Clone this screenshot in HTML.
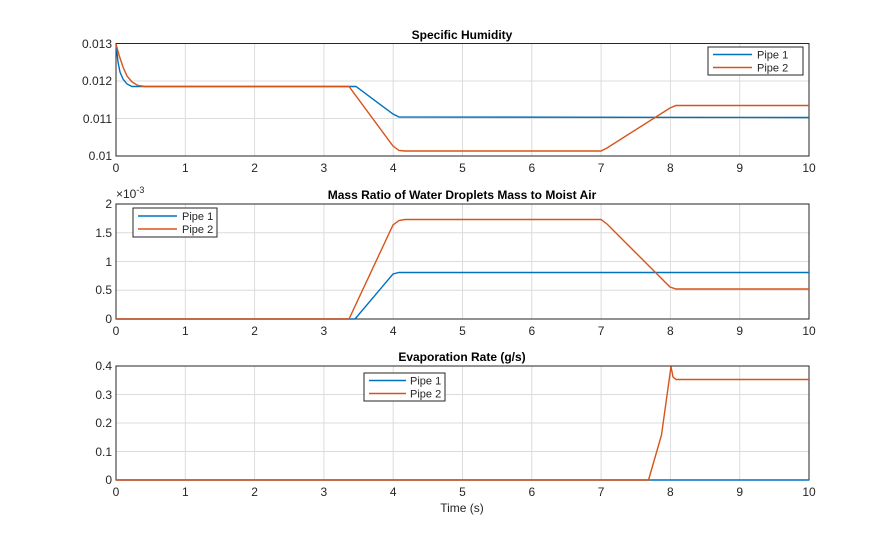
<!DOCTYPE html>
<html><head><meta charset="utf-8"><style>
body{margin:0;background:#fff}
svg{display:block;font-family:"Liberation Sans",Arial,sans-serif}
.g{stroke:#dcdcdc;stroke-width:1}
.t{font-size:12px;fill:#262626}
.h{font-size:12px;font-weight:bold;fill:#000}
.b{stroke:#262626;stroke-width:1;fill:none}
.p1{stroke:#0072bd;stroke-width:1.4;fill:none}
.p2{stroke:#d95319;stroke-width:1.4;fill:none}
</style></head><body>
<svg width="895" height="540" viewBox="0 0 895 540">
<rect width="895" height="540" fill="#fff"/>
<defs>
<g id="vg">
<line class="g" x1="185.3" x2="185.3"/><line class="g" x1="254.6" x2="254.6"/>
</g>
</defs>
<!-- subplot 1 -->
<g>
<g class="g">
<line x1="185.3" y1="43.5" x2="185.3" y2="156"/><line x1="254.6" y1="43.5" x2="254.6" y2="156"/><line x1="323.9" y1="43.5" x2="323.9" y2="156"/><line x1="393.2" y1="43.5" x2="393.2" y2="156"/><line x1="462.5" y1="43.5" x2="462.5" y2="156"/><line x1="531.8" y1="43.5" x2="531.8" y2="156"/><line x1="601.1" y1="43.5" x2="601.1" y2="156"/><line x1="670.4" y1="43.5" x2="670.4" y2="156"/><line x1="739.7" y1="43.5" x2="739.7" y2="156"/>
<line x1="116" y1="81" x2="809" y2="81"/><line x1="116" y1="118.5" x2="809" y2="118.5"/>
</g>
<rect class="b" x="116" y="43.5" width="693" height="112.5"/>
<text class="h" x="462" y="39" text-anchor="middle">Specific Humidity</text>
<g class="t" text-anchor="end"><text x="112" y="48">0.013</text><text x="112" y="85">0.012</text><text x="112" y="123">0.011</text><text x="112" y="160">0.01</text></g>
<polyline class="p1" points="116,44 118,62 120,72 123,79 127,84 132,86.5 350,86.5 356,86.5 393,114 399,117 809,117.5"/>
<polyline class="p2" points="116,44 119,55 123,67 127,76 132,82 138,85.5 145,86.5 349,86.5 393,146 399,150.5 405,151 601,151 607,148 670,108 676,105.5 809,105.5"/>
<rect x="708" y="47" width="95" height="28" fill="#fff" stroke="#262626"/>
<line class="p1" x1="713" y1="54.5" x2="752" y2="54.5"/><text class="t" x="757" y="58.5" style="font-size:11px">Pipe 1</text>
<line class="p2" x1="713" y1="67.5" x2="752" y2="67.5"/><text class="t" x="757" y="71.5" style="font-size:11px">Pipe 2</text>
</g>
<!-- subplot 2 -->
<g>
<g class="g">
<line x1="185.3" y1="204" x2="185.3" y2="319"/><line x1="254.6" y1="204" x2="254.6" y2="319"/><line x1="323.9" y1="204" x2="323.9" y2="319"/><line x1="393.2" y1="204" x2="393.2" y2="319"/><line x1="462.5" y1="204" x2="462.5" y2="319"/><line x1="531.8" y1="204" x2="531.8" y2="319"/><line x1="601.1" y1="204" x2="601.1" y2="319"/><line x1="670.4" y1="204" x2="670.4" y2="319"/><line x1="739.7" y1="204" x2="739.7" y2="319"/>
<line x1="116" y1="232.75" x2="809" y2="232.75"/><line x1="116" y1="261.5" x2="809" y2="261.5"/><line x1="116" y1="290.25" x2="809" y2="290.25"/>
</g>
<rect class="b" x="116" y="204" width="693" height="115"/>
<text class="h" x="462" y="199" text-anchor="middle">Mass Ratio of Water Droplets Mass to Moist Air</text>
<text class="t" x="116" y="198">×10<tspan dy="-5" style="font-size:9px">-3</tspan></text>
<g class="t" text-anchor="end"><text x="112" y="208">2</text><text x="112" y="237">1.5</text><text x="112" y="266">1</text><text x="112" y="294">0.5</text><text x="112" y="323">0</text></g>
<polyline class="p1" points="116,319 355,319 393,274 399,272.5 809,272.5"/>
<polyline class="p2" points="116,319 349,319 393,225 399,220.5 405,219.5 601,219.5 607,224 670,287 676,289 809,289"/>
<rect x="133" y="208" width="84" height="29" fill="#fff" stroke="#262626"/>
<line class="p1" x1="138" y1="216" x2="177" y2="216"/><text class="t" x="182" y="220" style="font-size:11px">Pipe 1</text>
<line class="p2" x1="138" y1="229" x2="177" y2="229"/><text class="t" x="182" y="233" style="font-size:11px">Pipe 2</text>
</g>
<!-- subplot 3 -->
<g>
<g class="g">
<line x1="185.3" y1="366" x2="185.3" y2="480"/><line x1="254.6" y1="366" x2="254.6" y2="480"/><line x1="323.9" y1="366" x2="323.9" y2="480"/><line x1="393.2" y1="366" x2="393.2" y2="480"/><line x1="462.5" y1="366" x2="462.5" y2="480"/><line x1="531.8" y1="366" x2="531.8" y2="480"/><line x1="601.1" y1="366" x2="601.1" y2="480"/><line x1="670.4" y1="366" x2="670.4" y2="480"/><line x1="739.7" y1="366" x2="739.7" y2="480"/>
<line x1="116" y1="394.5" x2="809" y2="394.5"/><line x1="116" y1="423" x2="809" y2="423"/><line x1="116" y1="451.5" x2="809" y2="451.5"/>
</g>
<rect class="b" x="116" y="366" width="693" height="114"/>
<text class="h" x="462" y="361" text-anchor="middle">Evaporation Rate (g/s)</text>
<g class="t" text-anchor="end"><text x="112" y="370">0.4</text><text x="112" y="399">0.3</text><text x="112" y="427">0.2</text><text x="112" y="456">0.1</text><text x="112" y="484">0</text></g>
<polyline class="p1" points="116,480 809,480"/>
<polyline class="p2" points="116,480 648.5,480 661.5,435 671,366.5 673,377 676,379.5 809,379.5"/>
<rect x="364" y="373" width="81" height="28" fill="#fff" stroke="#262626"/>
<line class="p1" x1="369" y1="380.5" x2="406" y2="380.5"/><text class="t" x="410" y="384.5" style="font-size:11px">Pipe 1</text>
<line class="p2" x1="369" y1="393.5" x2="406" y2="393.5"/><text class="t" x="410" y="397.5" style="font-size:11px">Pipe 2</text>
<text class="t" x="462" y="512" text-anchor="middle">Time (s)</text>
</g>
<!-- x tick labels -->
<g class="t" text-anchor="middle">
<text x="116" y="172">0</text><text x="185.3" y="172">1</text><text x="254.6" y="172">2</text><text x="323.9" y="172">3</text><text x="393.2" y="172">4</text><text x="462.5" y="172">5</text><text x="531.8" y="172">6</text><text x="601.1" y="172">7</text><text x="670.4" y="172">8</text><text x="739.7" y="172">9</text><text x="809" y="172">10</text>
<text x="116" y="335">0</text><text x="185.3" y="335">1</text><text x="254.6" y="335">2</text><text x="323.9" y="335">3</text><text x="393.2" y="335">4</text><text x="462.5" y="335">5</text><text x="531.8" y="335">6</text><text x="601.1" y="335">7</text><text x="670.4" y="335">8</text><text x="739.7" y="335">9</text><text x="809" y="335">10</text>
<text x="116" y="496">0</text><text x="185.3" y="496">1</text><text x="254.6" y="496">2</text><text x="323.9" y="496">3</text><text x="393.2" y="496">4</text><text x="462.5" y="496">5</text><text x="531.8" y="496">6</text><text x="601.1" y="496">7</text><text x="670.4" y="496">8</text><text x="739.7" y="496">9</text><text x="809" y="496">10</text>
</g>
</svg>
</body></html>
